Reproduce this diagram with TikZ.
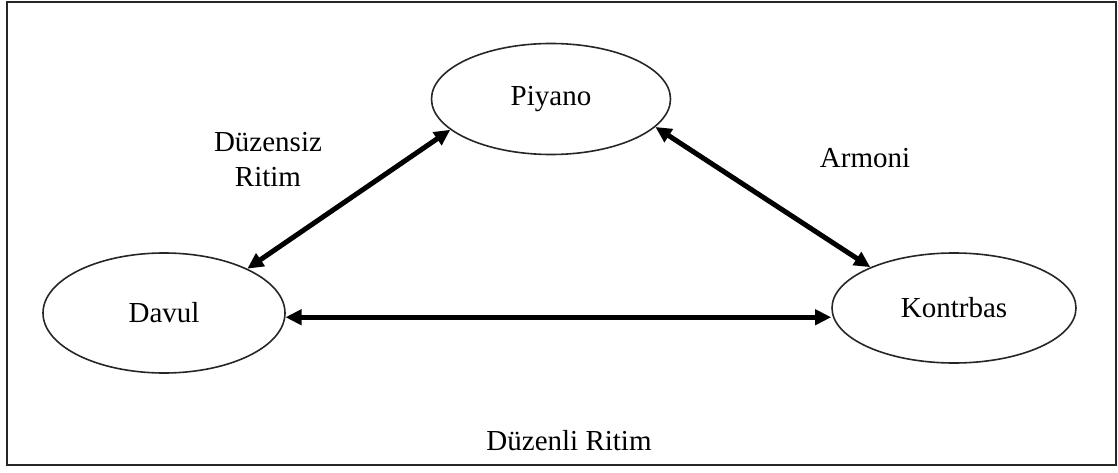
\documentclass[tikz,border=0pt]{standalone}
\usepackage{fontspec}
\setmainfont{Liberation Serif}
\usetikzlibrary{shapes.geometric,arrows.meta}
\begin{document}
\begin{tikzpicture}[x=1pt,y=-1pt,
  ell/.style={ellipse,draw=black!85,line width=1.6pt,inner sep=0pt,font=\fontsize{29}{35}\selectfont},
  lbl/.style={font=\fontsize{29}{35}\selectfont,inner sep=0pt,align=center},
  conn/.style={line width=5pt,{Triangle[length=16pt,width=15pt]}-{Triangle[length=16pt,width=15pt]}}]
\useasboundingbox (0,0) rectangle (1118,473);
\draw[line width=2pt,black!85] (7,2) rectangle (1116,465);
\node[ell,minimum width=239pt,minimum height=111pt] (piyano) at (551,99) {Piyano};
\node[ell,minimum width=242pt,minimum height=120pt] (davul) at (164,313) {Davul};
\node[ell,minimum width=244pt,minimum height=110pt] (kontrbas) at (954,308) {Kontrbas};
\draw[conn] (davul.28) -- (piyano.197);
\draw[conn] (piyano.-15) -- (kontrbas.154);
\draw[conn] (davul.-2) -- (davul.-2 -| kontrbas.west);
\node[lbl] (l1) at (268,160) {Düzensiz\\Ritim};
\node[lbl] (l2) at (865,158) {Armoni};
\node[lbl] (l3) at (569,441) {Düzenli Ritim};
\end{tikzpicture}
\end{document}
